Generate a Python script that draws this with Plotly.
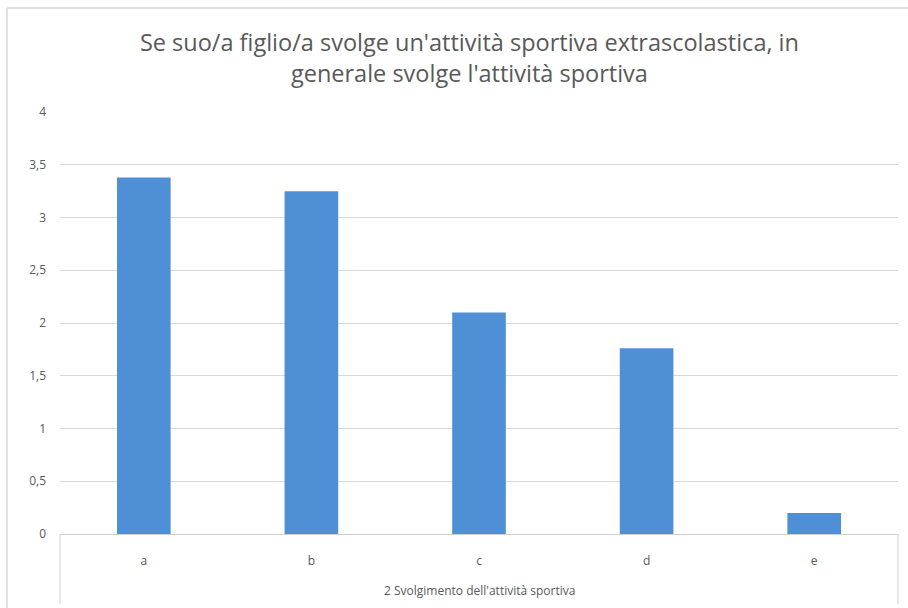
import plotly.graph_objects as go

# Data
group_label = "2 Svolgimento dell'attività sportiva"
categories = ["a", "b", "c", "d", "e"]
values = [3.38, 3.25, 2.10, 1.76, 0.20]
y_tickvals = [0, 0.5, 1, 1.5, 2, 2.5, 3, 3.5, 4]
y_ticktext = ["0", "0,5", "1", "1,5", "2", "2,5", "3", "3,5", "4"]

title_text = ("Se suo/a figlio/a svolge un'attività sportiva extrascolastica, in"
              "<br>generale svolge l'attività sportiva")

FONT = "Open Sans, Noto Sans, sans-serif"
GREY = "#595959"
LINE = "#d0d0d0"

fig = go.Figure(
    go.Bar(
        x=categories,
        y=values,
        marker=dict(color="#4f8fd6", line=dict(width=0)),
        hoverinfo="y",
    )
)

fig.update_layout(
    width=908,
    height=608,
    margin=dict(l=60, r=10, t=112, b=74),
    paper_bgcolor="white",
    plot_bgcolor="white",
    bargap=0.68,
    showlegend=False,
    title=dict(
        text=title_text,
        font=dict(family=FONT, size=23.5, color=GREY),
        x=0.517,
        xanchor="center",
        y=0.916,
        yanchor="middle",
    ),
    font=dict(family=FONT, color=GREY, size=12),
)

fig.update_xaxes(
    type="category",
    showgrid=False,
    showline=True,
    linecolor=LINE,
    linewidth=1,
    ticks="",
    ticklabelstandoff=16,
    tickfont=dict(size=12, color=GREY),
)

fig.update_yaxes(
    range=[0, 4],
    tickvals=y_tickvals,
    ticktext=y_ticktext,
    showgrid=True,
    gridcolor="#d9d9d9",
    gridwidth=1,
    zeroline=False,
    showline=False,
    ticks="",
    ticklabelstandoff=13,
    tickfont=dict(size=12, color=GREY),
)

# Group label of the two-level category axis, with its side dividers
fig.add_annotation(text=group_label, xref="paper", yref="paper",
                   x=0.5, y=-0.133, xanchor="center", yanchor="middle",
                   showarrow=False, font=dict(family=FONT, size=12, color=GREY))
for xd in (0, 1):
    fig.add_shape(type="line", xref="paper", yref="paper",
                  x0=xd, x1=xd, y0=0, y1=-0.166,
                  line=dict(color=LINE, width=1))

# Outer chart-area frame (left and top edges)
fig.add_shape(type="line", xref="paper", yref="paper",
              x0=-0.0632, x1=1.02, y0=1.2464, y1=1.2464,
              line=dict(color="#d9d9d9", width=1.5))
fig.add_shape(type="line", xref="paper", yref="paper",
              x0=-0.0632, x1=-0.0632, y0=1.2464, y1=-0.2,
              line=dict(color="#d9d9d9", width=1.5))

fig.write_html("out.html")
